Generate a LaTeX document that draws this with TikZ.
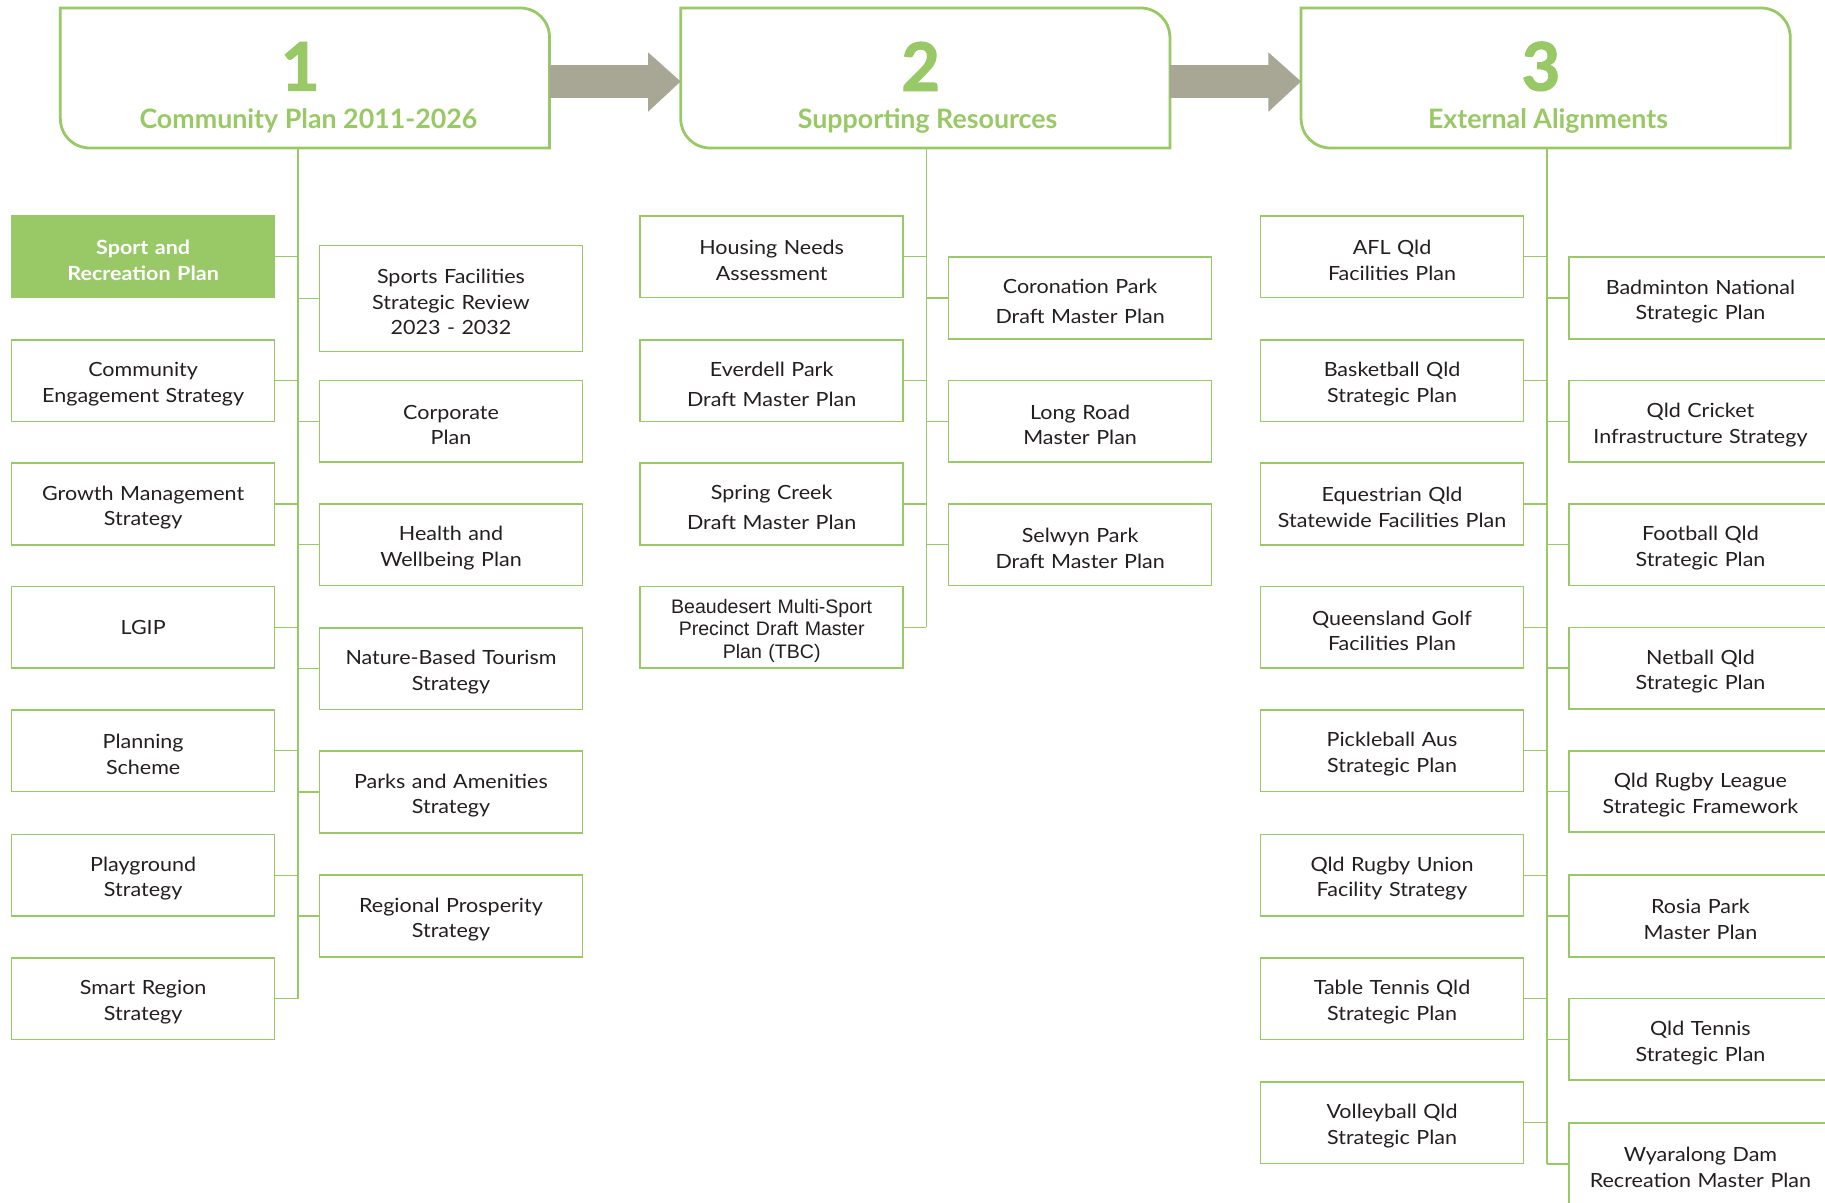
\documentclass[tikz,border=0pt]{standalone}
\usepackage{fontspec}
\setmainfont{Lato}[FakeStretch=1.1]
\newfontfamily\hfont{Lato}
\newfontfamily\arialfont{Liberation Sans}
\usetikzlibrary{calc}
\definecolor{lgreen}{RGB}{153,200,102}
\definecolor{arrgray}{RGB}{168,166,148}
\definecolor{txt}{RGB}{35,31,32}
\tikzset{
  box/.style={draw=lgreen, line width=1.4pt, minimum width=226pt, minimum height=70pt,
    text width=222pt, align=center, inner sep=0pt, text=txt,
    font=\fontsize{16.8}{22}\selectfont, execute at end node={\par\vspace*{-6pt}}},
  wide/.style={font=\fontsize{16.8}{26}\selectfont},
  tallbox/.style={minimum height=91pt},
  fillbox/.style={fill=lgreen, text=white, font=\bfseries\fontsize{16.8}{22}\selectfont},
  conn/.style={draw=lgreen, line width=1.2pt},
  hdrnode/.style={minimum width=420pt, minimum height=120pt, inner sep=0pt},
  hdr/.style={draw=lgreen, line width=2.4pt},
  digit/.style={text=lgreen, font=\hfont\bfseries\addfontfeature{FakeBold=2}\fontsize{57}{57}\selectfont, inner sep=0pt},
  htitle/.style={text=lgreen, font=\hfont\bfseries\fontsize{23}{25}\selectfont, inner sep=0pt},
  arr/.style={fill=arrgray},
}
\begin{document}
\begin{tikzpicture}[x=1pt,y=-1pt]
\useasboundingbox (0,0) rectangle (1568,1033);
\clip (0,0) rectangle (1568,1033);
\fill[white] (0,0) rectangle (1568,1033);

% headers
\node[hdrnode] (h1) at (262,67) {};
\node[hdrnode] (h2) at (795,67) {};
\node[hdrnode] (h3) at (1328,67) {};
\foreach \h in {h1,h2,h3}{
  \draw[hdr] (\h.north west) -- ([xshift=-26pt]\h.north east)
    .. controls ([xshift=-11pt]\h.north east) and ([yshift=-11pt]\h.north east) .. ([yshift=-26pt]\h.north east)
    -- (\h.south east) -- ([xshift=26pt]\h.south west)
    .. controls ([xshift=11pt]\h.south west) and ([yshift=11pt]\h.south west) .. ([yshift=26pt]\h.south west)
    -- cycle;
}
\node[digit] (d1) at (258,57) {1};
\node[digit] (d2) at (791,57) {2};
\node[digit] (d3) at (1324,57) {3};
\node[htitle] (ht1) at (265,104) {Community Plan 2011-2026};
\node[htitle] (ht2) at (797,104) {Supporting Resources};
\node[htitle] (ht3) at (1330,104) {External Alignments};

% block arrows
\fill[arr] ($(h1.east)+(0,-11)$) -- ($(h2.west)+(-28,-11)$) -- ($(h2.west)+(-28,-22)$) -- ($(h2.west)+(0,3)$)
  -- ($(h2.west)+(-28,29)$) -- ($(h2.west)+(-28,17)$) -- ($(h1.east)+(0,17)$) -- cycle;
\fill[arr] ($(h2.east)+(0,-11)$) -- ($(h3.west)+(-28,-11)$) -- ($(h3.west)+(-28,-22)$) -- ($(h3.west)+(0,3)$)
  -- ($(h3.west)+(-28,29)$) -- ($(h3.west)+(-28,17)$) -- ($(h2.east)+(0,17)$) -- cycle;

% trunks
\coordinate (t1) at (256,127);
\coordinate (t2) at (796,127);
\coordinate (t3) at (1329,127);

% column 1
\node[box,fillbox] (a1) at (123,220.5) {Sport and\\Recreation Plan};
\node[box] (a2) at (123,327) {Community\\Engagement Strategy};
\node[box] (a3) at (123,433) {Growth Management\\Strategy};
\node[box] (a4) at (123,539) {LGIP};
\node[box] (a5) at (123,645) {Planning\\Scheme};
\node[box] (a6) at (123,752) {Playground\\Strategy};
\node[box] (a7) at (123,858) {Smart Region\\Strategy};
\node[box,tallbox] (b1) at (387.5,256.5) {Sports Facilities\\Strategic Review\\2023 - 2032};
\node[box] (b2) at (387.5,362) {Corporate\\Plan};
\node[box] (b3) at (387.5,468) {Health and\\Wellbeing Plan};
\node[box] (b4) at (387.5,574.5) {Nature-Based Tourism\\Strategy};
\node[box] (b5) at (387.5,680.5) {Parks and Amenities\\Strategy};
\node[box] (b6) at (387.5,787) {Regional Prosperity\\Strategy};

\draw[conn] (t1) -- (t1 |- a7.east);
\foreach \n in {a1,a2,a3,a4,a5,a6,a7}{\draw[conn] (\n.east) -- (t1 |- \n.east);}
\foreach \n in {b1,b2,b3,b4,b5,b6}{\draw[conn] (t1 |- \n.west) -- (\n.west);}

% column 2
\node[box] (c1) at (663,220.5) {Housing Needs\\Assessment};
\node[box,wide] (c2) at (663,327) {Everdell Park\\Draft Master Plan};
\node[box,wide] (c3) at (663,433) {Spring Creek\\Draft Master Plan};
\node[box,font=\arialfont\fontsize{16.8}{19.5}\selectfont] (c4) at (663,539) {Beaudesert Multi-Sport\\Precinct Draft Master\\Plan (TBC)};
\node[box,wide] (e1) at (928,256) {Coronation Park\\Draft Master Plan};
\node[box] (e2) at (928,362) {Long Road\\Master Plan};
\node[box] (e3) at (928,468) {Selwyn Park\\Draft Master Plan};

\draw[conn] (t2) -- (t2 |- c4.east);
\foreach \n in {c1,c2,c3,c4}{\draw[conn] (\n.east) -- (t2 |- \n.east);}
\foreach \n in {e1,e2,e3}{\draw[conn] (t2 |- \n.west) -- (\n.west);}

% column 3
\node[box] (f1) at (1196,220.5) {AFL Qld\\Facilities Plan};
\node[box] (f2) at (1196,327) {Basketball Qld\\Strategic Plan};
\node[box] (f3) at (1196,433) {Equestrian Qld\\Statewide Facilities Plan};
\node[box] (f4) at (1196,539) {Queensland Golf\\Facilities Plan};
\node[box] (f5) at (1196,645) {Pickleball Aus\\Strategic Plan};
\node[box] (f6) at (1196,752) {Qld Rugby Union\\Facility Strategy};
\node[box] (f7) at (1196,858) {Table Tennis Qld\\Strategic Plan};
\node[box] (f8) at (1196,964.5) {Volleyball Qld\\Strategic Plan};
\node[box] (g1) at (1461,256) {Badminton National\\Strategic Plan};
\node[box] (g2) at (1461,362) {Qld Cricket\\Infrastructure Strategy};
\node[box] (g3) at (1461,468) {Football Qld\\Strategic Plan};
\node[box] (g4) at (1461,574) {Netball Qld\\Strategic Plan};
\node[box] (g5) at (1461,680) {Qld Rugby League\\Strategic Framework};
\node[box] (g6) at (1461,787) {Rosia Park\\Master Plan};
\node[box] (g7) at (1461,893) {Qld Tennis\\Strategic Plan};
\node[box] (g8) at (1461,1000) {Wyaralong Dam\\Recreation Master Plan};

\draw[conn] (t3) -- (t3 |- g8.west);
\foreach \n in {f1,f2,f3,f4,f5,f6,f7,f8}{\draw[conn] (\n.east) -- (t3 |- \n.east);}
\foreach \n in {g1,g2,g3,g4,g5,g6,g7,g8}{\draw[conn] (t3 |- \n.west) -- (\n.west);}
\end{tikzpicture}
\end{document}
